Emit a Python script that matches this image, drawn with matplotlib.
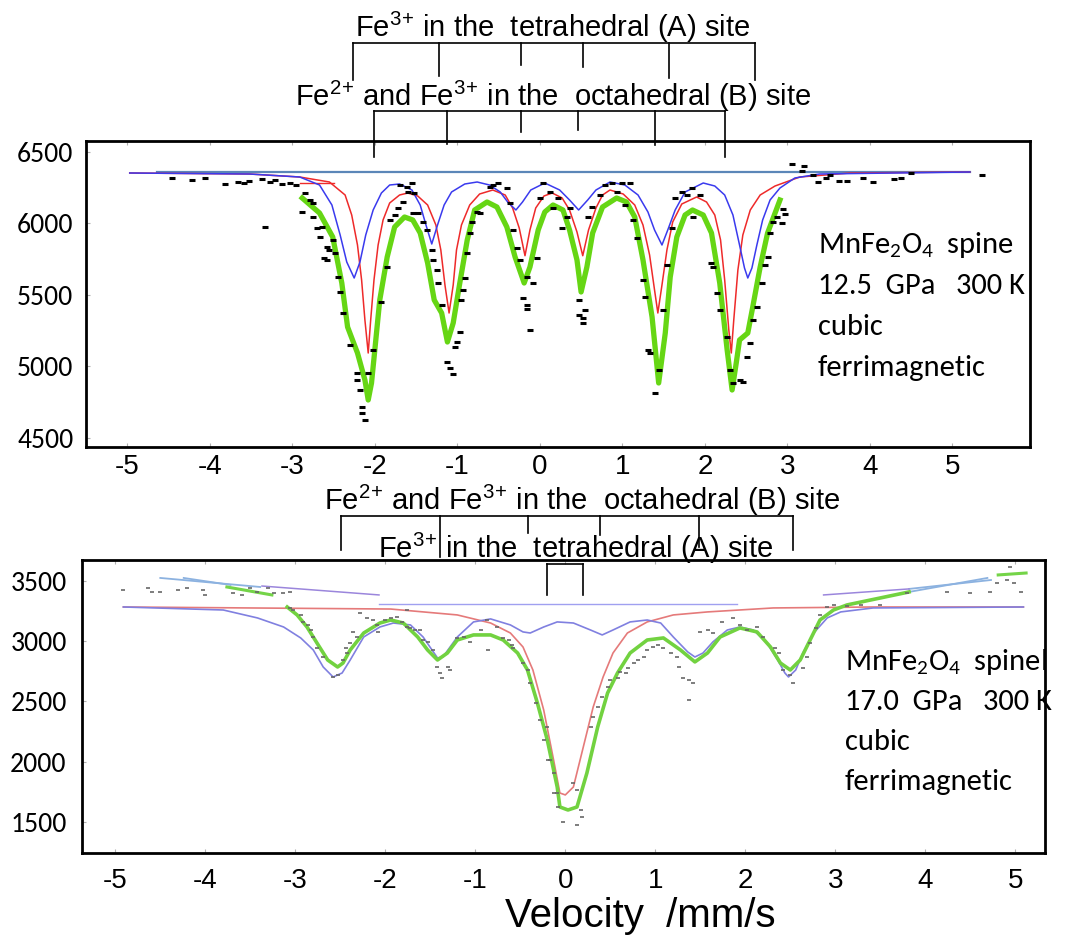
import matplotlib
matplotlib.use("Agg")
import matplotlib.pyplot as plt
from matplotlib import font_manager as fm

names = {f.name for f in fm.fontManager.ttflist}
ANNO = "Liberation Sans"
BODY = "Carlito" if "Carlito" in names else "Lato"
plt.rcParams["mathtext.default"] = "regular"

# ---------------- data: top panel (12.5 GPa) ----------------
top_baseline = [(-4.64, 6360), (5.21, 6360)]
top_red = [(-4.97, 6353), (-3.52, 6346), (-2.91, 6325), (-2.55, 6290), (-2.36, 6199), (-2.28, 6059),
           (-2.21, 5849), (-2.16, 5604), (-2.12, 5324), (-2.08, 5093), (-2.05, 5324), (-2.01, 5604),
           (-1.96, 5849), (-1.90, 6024), (-1.82, 6143), (-1.70, 6199), (-1.60, 6213), (-1.48, 6192),
           (-1.36, 6129), (-1.26, 5989), (-1.20, 5814), (-1.15, 5569), (-1.10, 5373), (-1.05, 5569),
           (-1.01, 5814), (-0.95, 5989), (-0.85, 6129), (-0.73, 6206), (-0.57, 6234), (-0.42, 6199),
           (-0.33, 6108), (-0.25, 5968), (-0.18, 5774), (-0.12, 5954), (-0.05, 6108), (0.05, 6192),
           (0.15, 6213), (0.27, 6178), (0.36, 6094), (0.45, 5940), (0.52, 5774), (0.59, 5954),
           (0.68, 6108), (0.76, 6199), (0.85, 6234), (1.01, 6206), (1.15, 6129), (1.25, 5989),
           (1.33, 5779), (1.39, 5534), (1.43, 5373), (1.48, 5569), (1.54, 5814), (1.61, 6010),
           (1.72, 6136), (1.90, 6185), (2.02, 6150), (2.12, 6059), (2.19, 5884), (2.24, 5604),
           (2.29, 5254), (2.32, 5093), (2.35, 5324), (2.40, 5674), (2.46, 5919), (2.55, 6094),
           (2.67, 6199), (2.85, 6262), (3.15, 6325), (3.76, 6353), (5.21, 6360)]
top_red_stub = [(-2.91, 6283), (-2.50, 6283)]
top_blue = [(-4.97, 6353), (-3.52, 6346), (-2.91, 6325), (-2.67, 6269), (-2.52, 6129), (-2.42, 5919),
            (-2.34, 5730), (-2.25, 5618), (-2.18, 5730), (-2.11, 5919), (-2.02, 6094), (-1.92, 6213),
            (-1.82, 6269), (-1.70, 6276), (-1.55, 6234), (-1.45, 6129), (-1.38, 5989), (-1.31, 5856),
            (-1.24, 5989), (-1.16, 6129), (-1.07, 6220), (-0.91, 6276), (-0.76, 6290), (-0.61, 6269),
            (-0.48, 6220), (-0.39, 6150), (-0.29, 6094), (-0.21, 6150), (-0.11, 6234), (0.06, 6283),
            (0.24, 6234), (0.36, 6164), (0.47, 6094), (0.58, 6164), (0.68, 6234), (0.85, 6290),
            (1.03, 6269), (1.19, 6199), (1.31, 6080), (1.39, 5954), (1.48, 5849), (1.55, 5954),
            (1.64, 6094), (1.76, 6220), (1.98, 6283), (2.12, 6262), (2.24, 6199), (2.34, 6059),
            (2.42, 5849), (2.48, 5688), (2.52, 5618), (2.57, 5688), (2.63, 5849), (2.70, 6024),
            (2.79, 6164), (2.91, 6248), (3.09, 6318), (3.39, 6346), (5.21, 6360)]
top_green = [(-2.88, 6178), (-2.67, 6073), (-2.51, 5905), (-2.40, 5583), (-2.33, 5275), (-2.21, 5093),
             (-2.12, 4904), (-2.08, 4764), (-2.04, 4883), (-2.00, 5114), (-1.94, 5464), (-1.85, 5765),
             (-1.76, 5975), (-1.64, 6045), (-1.54, 6024), (-1.45, 5933), (-1.36, 5723), (-1.28, 5464),
             (-1.19, 5373), (-1.12, 5170), (-1.05, 5303), (-0.97, 5583), (-0.88, 5884), (-0.79, 6094),
             (-0.64, 6150), (-0.52, 6115), (-0.40, 5975), (-0.30, 5765), (-0.19, 5583), (-0.12, 5695),
             (-0.02, 5954), (0.06, 6080), (0.16, 6129), (0.28, 6094), (0.36, 5954), (0.45, 5744),
             (0.50, 5520), (0.57, 5695), (0.64, 5933), (0.76, 6115), (0.93, 6178), (1.05, 6150),
             (1.15, 6045), (1.25, 5744), (1.36, 5345), (1.44, 4883), (1.52, 5233), (1.58, 5625),
             (1.66, 5905), (1.76, 6059), (1.85, 6094), (1.98, 6059), (2.08, 5933), (2.18, 5583),
             (2.27, 5114), (2.33, 4834), (2.38, 5023), (2.42, 5184), (2.52, 5233), (2.58, 5415),
             (2.67, 5695), (2.76, 5933), (2.91, 6164)]
top_points = [(-4.46, 6318), (-4.22, 6304), (-4.06, 6318), (-3.82, 6276), (-3.66, 6290), (-3.58, 6283),
              (-3.52, 6297), (-3.37, 6311), (-3.27, 6290), (-3.21, 6304), (-3.12, 6276), (-3.03, 6283),
              (-2.96, 6269), (-3.33, 5975),
              (-2.85, 6213), (-2.79, 6164), (-2.75, 6143), (-2.88, 6080), (-2.75, 6045), (-2.70, 5968),
              (-2.64, 5975), (-2.67, 5905), (-2.58, 5835), (-2.55, 5814), (-2.61, 5758), (-2.58, 5744),
              (-2.48, 5793), (-2.51, 5884), (-2.45, 5625), (-2.42, 5520), (-2.39, 5373), (-2.30, 5149),
              (-2.22, 4953), (-2.21, 4904), (-2.18, 4834), (-2.15, 4715), (-2.16, 4673), (-2.12, 4624),
              (-2.08, 4953), (-2.02, 5114), (-1.92, 5450), (-1.85, 5695), (-1.82, 6024), (-1.76, 6059),
              (-1.72, 6108), (-1.70, 6269), (-1.61, 6255), (-1.55, 6283), (-1.60, 6220), (-1.52, 6213),
              (-1.66, 6150), (-1.54, 6073), (-1.48, 6073), (-1.42, 6010), (-1.37, 5954), (-1.31, 5814),
              (-1.30, 5744), (-1.25, 5674), (-1.24, 5583), (-1.18, 5429), (-0.97, 5240), (-1.01, 5170),
              (-1.03, 5135), (-1.12, 5030), (-1.09, 4988), (-1.05, 4946), (-0.95, 5464), (-0.93, 5534),
              (-0.91, 5618), (-0.88, 5793), (-0.85, 5933), (-0.82, 6010), (-0.76, 6080), (-0.73, 6073),
              (-0.57, 6269), (-0.51, 6283), (-0.61, 6255), (-0.40, 6248), (-0.36, 6143), (-0.33, 5954),
              (-0.28, 5828), (-0.24, 5744), (-0.15, 5625), (-0.08, 5583), (-0.21, 5478), (-0.15, 5429),
              (-0.16, 5401), (-0.12, 5254), (-0.04, 5758), (0.00, 6178), (0.04, 6283), (0.12, 6220),
              (0.16, 6108), (0.22, 6178), (0.27, 5968), (0.33, 6045), (0.36, 6108), (0.48, 5464),
              (0.48, 5359), (0.52, 5338), (0.55, 5394), (0.52, 5303), (0.58, 6045), (0.63, 6115),
              (0.73, 6199), (0.79, 6269), (0.87, 6283), (0.93, 6220), (0.99, 6283), (1.03, 6129),
              (1.09, 6283), (1.13, 6024), (1.18, 5898), (1.25, 5604), (1.27, 5485), (1.31, 5114),
              (1.33, 5093), (1.39, 4813), (1.45, 4974), (1.49, 5394), (1.54, 5709), (1.60, 5968),
              (1.64, 6178), (1.72, 6220), (1.78, 6199), (1.84, 6248), (1.85, 6045), (1.94, 6199),
              (2.08, 5723), (2.10, 5695), (2.15, 5513), (2.18, 5394), (2.27, 5205), (2.30, 4974),
              (2.34, 4883), (2.42, 4904), (2.46, 4890), (2.51, 5065), (2.55, 5163), (2.58, 5324),
              (2.63, 5415), (2.69, 5583), (2.73, 5709), (2.76, 5765), (2.79, 5933), (2.82, 6010),
              (2.88, 6045), (2.95, 6101), (2.97, 6066), (2.93, 6003),
              (3.05, 6416), (3.20, 6402), (3.18, 6367), (3.31, 6339), (3.37, 6290), (3.47, 6318),
              (3.52, 6339), (3.62, 6297), (3.72, 6297), (3.92, 6318), (4.04, 6290), (4.29, 6311),
              (4.38, 6318), (4.50, 6353), (5.36, 6339)]

# ---------------- data: bottom panel (17.0 GPa) ----------------
bot_red = [(-4.91, 3284), (-1.94, 3267), (-1.20, 3218), (-0.83, 3151), (-0.61, 3068), (-0.47, 2952),
           (-0.36, 2761), (-0.24, 2429), (-0.13, 2014), (-0.06, 1740), (0.00, 1724), (0.09, 1790),
           (0.20, 2122), (0.31, 2454), (0.42, 2703), (0.53, 2902), (0.69, 3068), (0.91, 3160),
           (1.20, 3218), (1.58, 3243), (2.31, 3276), (3.42, 3284), (5.09, 3284)]
bot_blue = [(-4.91, 3284), (-3.80, 3259), (-3.42, 3193), (-3.13, 3118), (-2.94, 3027), (-2.80, 2927),
            (-2.69, 2786), (-2.58, 2703), (-2.48, 2736), (-2.39, 2844), (-2.24, 3035), (-2.06, 3118),
            (-1.91, 3151), (-1.72, 3135), (-1.58, 3035), (-1.42, 2861), (-1.36, 2869), (-1.20, 3035),
            (-1.02, 3160), (-0.83, 3185), (-0.61, 3135), (-0.47, 3077), (-0.39, 3068), (-0.24, 3118),
            (-0.09, 3160), (0.09, 3151), (0.28, 3093), (0.41, 3052), (0.53, 3093), (0.72, 3160),
            (0.91, 3176), (1.06, 3151), (1.20, 3035), (1.36, 2911), (1.44, 2869), (1.53, 2902),
            (1.64, 2994), (1.80, 3093), (1.94, 3118), (2.09, 3093), (2.24, 2986), (2.36, 2844),
            (2.44, 2736), (2.48, 2703), (2.56, 2761), (2.64, 2902), (2.76, 3068), (2.91, 3193),
            (3.06, 3243), (3.42, 3276), (5.09, 3284)]
bot_green = [(-3.09, 3284), (-2.98, 3218), (-2.87, 3118), (-2.76, 2986), (-2.64, 2844), (-2.53, 2786),
             (-2.47, 2819), (-2.39, 2927), (-2.24, 3068), (-2.06, 3151), (-1.94, 3176), (-1.80, 3151),
             (-1.64, 3035), (-1.53, 2927), (-1.42, 2844), (-1.31, 2902), (-1.20, 3010), (-1.02, 3052),
             (-0.83, 3052), (-0.69, 3010), (-0.53, 2902), (-0.42, 2761), (-0.31, 2487), (-0.20, 2180),
             (-0.09, 1790), (-0.06, 1624), (0.03, 1599), (0.13, 1624), (0.24, 1906), (0.36, 2288),
             (0.47, 2570), (0.58, 2736), (0.72, 2902), (0.91, 3010), (1.09, 3027), (1.28, 2927),
             (1.44, 2828), (1.58, 2902), (1.72, 3035), (1.94, 3110), (2.13, 3077), (2.28, 2952),
             (2.39, 2819), (2.50, 2761), (2.61, 2844), (2.72, 3010), (2.83, 3176), (2.98, 3259),
             (3.13, 3301), (3.82, 3409)]
bot_flat = [(-2.07, 3309), (1.91, 3309)]
bot_upper_blue = [[(-4.50, 3525), (-3.39, 3450)], [(-4.24, 3525), (-3.72, 3467)],
                  [(3.82, 3434), (4.73, 3508)], [(3.82, 3409), (4.69, 3525)]]
bot_upper_purple = [[(-3.37, 3458), (-2.07, 3384)], [(2.87, 3384), (3.82, 3434)]]
bot_upper_green = [[(-3.76, 3450), (-3.26, 3384)], [(4.81, 3550), (5.12, 3566)]]
bot_points = [(-4.91, 3425), (-4.64, 3442), (-4.59, 3409), (-4.50, 3409), (-4.30, 3425), (-4.20, 3442),
              (-4.02, 3425), (-4.00, 3384), (-3.69, 3400), (-3.59, 3384), (-3.50, 3442), (-3.42, 3409),
              (-3.30, 3442), (-3.24, 3400), (-3.14, 3400), (-3.06, 3409),
              (-3.06, 3276), (-3.02, 3259), (-2.94, 3218), (-2.91, 3160), (-2.86, 3135), (-2.83, 3093),
              (-2.80, 3035), (-2.76, 2944), (-2.69, 2869), (-2.58, 2703), (-2.52, 2720), (-2.47, 2844),
              (-2.42, 2902), (-2.44, 2944), (-2.39, 2986), (-2.31, 3035), (-2.36, 3077), (-2.28, 3234),
              (-2.20, 3193), (-2.14, 3176), (-2.09, 3135), (-2.08, 3077), (-2.00, 3176), (-1.94, 3193),
              (-1.87, 3201), (-1.81, 3160), (-1.76, 3118), (-1.72, 3110), (-1.67, 3093), (-1.61, 3093),
              (-1.58, 3010), (-1.52, 2994), (-1.47, 2927), (-1.42, 2786), (-1.39, 2736), (-1.37, 2695),
              (-1.30, 2786), (-1.28, 2761), (-1.20, 3027), (-1.13, 3035), (-1.06, 2994), (-0.94, 3093),
              (-0.86, 2927), (-0.76, 3118), (-0.69, 3027), (-0.63, 3010), (-0.59, 2969), (-0.58, 2944),
              (-0.47, 2819), (-0.42, 2761), (-0.39, 2653), (-0.33, 2487), (-0.28, 2346), (-0.24, 2180),
              (-0.19, 2014), (-0.13, 1906), (-0.09, 1740), (-1.76, 3259), (-0.87, 3176),
              (-0.20, 2288), (-0.17, 2014), (-0.13, 1740), (-0.08, 1624), (-0.03, 1500), (0.08, 1823),
              (0.13, 1765), (0.17, 1599), (0.13, 1475), (0.19, 1541), (0.28, 2288), (0.31, 2371),
              (0.36, 2454), (0.41, 2537), (0.47, 2620), (0.50, 2678), (0.58, 2695), (0.61, 2745),
              (0.67, 2736), (0.70, 2778), (0.76, 2819), (0.81, 2844), (0.87, 2869), (0.91, 2927),
              (0.97, 2952), (1.03, 2969), (1.09, 2944), (1.17, 2902), (1.24, 2869), (1.26, 2786),
              (1.31, 2695), (1.37, 2678), (1.42, 2653), (1.37, 2512), (1.50, 3077), (1.58, 3093),
              (1.64, 3068), (1.74, 3160), (1.86, 3193), (1.94, 3135), (2.02, 3093), (2.13, 3118),
              (2.20, 3035), (2.33, 2944), (2.37, 2902), (2.42, 2761), (2.50, 2720), (2.53, 2653),
              (2.64, 2778), (2.69, 2869), (2.72, 2986), (2.78, 3110), (2.83, 3218), (2.91, 3284),
              (2.98, 3301), (3.13, 3292), (3.28, 3301), (3.50, 3301), (3.80, 3400), (4.24, 3409),
              (4.50, 3400), (4.72, 3409), (4.80, 3483), (4.91, 3508), (4.98, 3483), (5.06, 3409),
              (4.94, 3616)]

x_ticks = [-5, -4, -3, -2, -1, 0, 1, 2, 3, 4, 5]
top_y_ticks = [4500, 5000, 5500, 6000, 6500]
bot_y_ticks = [1500, 2000, 2500, 3000, 3500]

# site-marker stick positions (velocity)
top_tetra_sticks = [-2.27, -1.22, -0.23, 0.52, 1.56, 2.61]
top_octa_sticks = [-2.01, -1.13, -0.23, 0.46, 1.39, 2.24]
bot_octa_sticks = [-2.49, -1.39, -0.42, 0.39, 1.49, 2.53]
bot_tetra_sticks = [-0.20, 0.20]


def xy(pairs):
    return [p[0] for p in pairs], [p[1] for p in pairs]


fig = plt.figure(figsize=(10.70, 9.39), dpi=100)
ax1 = fig.add_axes([86 / 1070, 1 - 447 / 939, 944 / 1070, 306 / 939])
ax2 = fig.add_axes([82 / 1070, 1 - 853 / 939, 963 / 1070, 293 / 939])

# ---- top panel ----
ax1.plot(*xy(top_baseline), color="#5b86b8", lw=1.6, zorder=2)
ax1.plot(*xy(top_red), color="#ee2a2a", lw=1.1, zorder=3)
ax1.plot(*xy(top_red_stub), color="#ee2a2a", lw=1.0, zorder=3)
ax1.plot(*xy(top_blue), color="#3a3aee", lw=1.1, zorder=3)
ax1.plot(*xy(top_green), color="#66d614", lw=3.8, solid_joinstyle="round", zorder=4)
ax1.plot(*xy(top_points), ls="none", marker="_", ms=5, mew=2.2, color="black", zorder=5)
ax1.set_xlim(-5.50, 5.94)
ax1.set_ylim(4435, 6577)

# ---- bottom panel ----
ax2.plot(*xy(bot_flat), color="#a0a0f0", lw=1.0, zorder=2)
for seg in bot_upper_blue:
    ax2.plot(*xy(seg), color="#8cb2e0", lw=1.3, zorder=2)
for seg in bot_upper_purple:
    ax2.plot(*xy(seg), color="#9b86dc", lw=1.1, zorder=2)
for seg in bot_upper_green:
    ax2.plot(*xy(seg), color="#74d448", lw=2.2, zorder=2)
ax2.plot(*xy(bot_red), color="#e57a7a", lw=1.2, zorder=3)
ax2.plot(*xy(bot_blue), color="#8080e0", lw=1.2, zorder=3)
ax2.plot(*xy(bot_green), color="#72d240", lw=2.6, solid_joinstyle="round", zorder=4)
ax2.plot(*xy(bot_points), ls="none", marker="_", ms=3, mew=1.4, color="#666666", alpha=0.85, zorder=5)
ax2.set_xlim(-5.37, 5.33)
ax2.set_ylim(1242, 3674)

for ax, yt, xpad, ypad in ((ax1, top_y_ticks, 5, 9), (ax2, bot_y_ticks, 11, 11)):
    ax.set_xticks(x_ticks)
    ax.set_xticklabels([str(t) for t in x_ticks], fontfamily=ANNO, fontsize=20)
    ax.set_yticks(yt)
    ax.set_yticklabels([str(t) for t in yt], fontfamily=BODY, fontsize=20)
    ax.tick_params(axis="x", direction="in", length=3, width=0.8, color="#b0b0b0", top=True, pad=xpad)
    ax.tick_params(axis="y", direction="in", length=3, width=0.8, color="#b0b0b0", pad=ypad)
    for s in ax.spines.values():
        s.set_linewidth(2.0)
        s.set_color("black")


def sticks(ax, xs, ybar, yends, lw=1.2):
    tr = ax.get_xaxis_transform()
    ax.plot([xs[0], xs[-1]], [ybar, ybar], color="black", lw=lw, transform=tr, clip_on=False, zorder=6)
    for x, ye in zip(xs, yends):
        ax.plot([x, x], [ybar, ye], color="black", lw=lw, transform=tr, clip_on=False, zorder=6)


sticks(ax1, top_tetra_sticks, 1.320, [1.199, 1.212, 1.248, 1.242, 1.206, 1.199])
sticks(ax1, top_octa_sticks, 1.098, [0.948, 0.990, 1.029, 1.036, 0.987, 0.948])
sticks(ax2, bot_octa_sticks, 1.150, [1.034, 1.010, 1.092, 1.085, 1.044, 1.034])
sticks(ax2, bot_tetra_sticks, 0.986, [0.881, 0.881])

lab_tetra = "Fe$^{3}$$^{+}$ in the  tetrahedral (A) site"
lab_octa = "Fe$^{2}$$^{+}$ and Fe$^{3}$$^{+}$ in the  octahedral (B) site"
ax1.text(0.15, 1.372, lab_tetra, transform=ax1.get_xaxis_transform(), ha="center", va="center",
         fontfamily=ANNO, fontsize=21)
ax1.text(0.16, 1.146, lab_octa, transform=ax1.get_xaxis_transform(), ha="center", va="center",
         fontfamily=ANNO, fontsize=21)
ax2.text(0.19, 1.205, lab_octa, transform=ax2.get_xaxis_transform(), ha="center", va="center",
         fontfamily=ANNO, fontsize=21)
ax2.text(0.11, 1.041, lab_tetra, transform=ax2.get_xaxis_transform(), ha="center", va="center",
         fontfamily=ANNO, fontsize=21)

top_info = ["MnFe$_2$O$_4$  spine", "12.5  GPa   300 K", "cubic", "ferrimagnetic"]
bot_info = ["MnFe$_2$O$_4$  spinel", "17.0  GPa   300 K", "cubic", "ferrimagnetic"]
for i, line in enumerate(top_info):
    fig.text(818 / 1070, 1 - (245 + 41 * i) / 939, line, ha="left", va="center",
             fontfamily=BODY, fontsize=22)
for i, line in enumerate(bot_info):
    fig.text(845 / 1070, 1 - (662 + 40 * i) / 939, line, ha="left", va="center",
             fontfamily=BODY, fontsize=22)

fig.text(640 / 1070, 1 - 916 / 939, "Velocity  /mm/s", ha="center", va="center",
         fontfamily=ANNO, fontsize=29)

fig.savefig("out.png", dpi=100)
